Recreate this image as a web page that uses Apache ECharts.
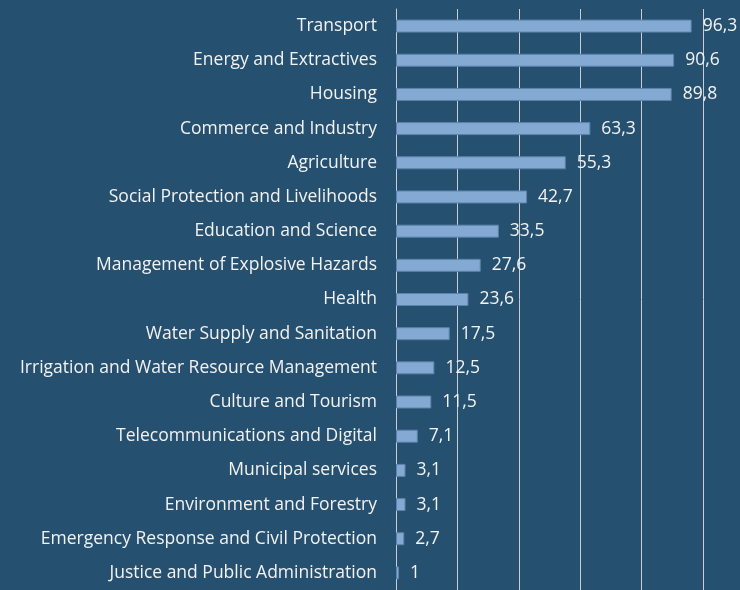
<!DOCTYPE html>
<html>
<head>
<meta charset="utf-8">
<script src="https://cdn.jsdelivr.net/npm/echarts@6/dist/echarts.min.js"></script>
<style>
  html, body { margin: 0; padding: 0; background: #26506f; }
  #chart { width: 740px; height: 590px; }
</style>
</head>
<body>
<div id="chart"></div>
<script>
const categories = [
  'Transport',
  'Energy and Extractives',
  'Housing',
  'Commerce and Industry',
  'Agriculture',
  'Social Protection and Livelihoods',
  'Education and Science',
  'Management of Explosive Hazards',
  'Health',
  'Water Supply and Sanitation',
  'Irrigation and Water Resource Management',
  'Culture and Tourism',
  'Telecommunications and Digital',
  'Municipal services',
  'Environment and Forestry',
  'Emergency Response and Civil Protection',
  'Justice and Public Administration'
]
const values = [96.3, 90.6, 89.8, 63.3, 55.3, 42.7, 33.5, 27.6, 23.6, 17.5, 12.5, 11.5, 7.1, 3.1, 3.1, 2.7, 1]

const chart = echarts.init(document.getElementById('chart'))
chart.setOption({
  backgroundColor: '#26506f',
  animation: false,
  grid: { left: 396, right: 37, top: 9, height: 586 },
  xAxis: {
    type: 'value',
    min: 0,
    max: 100,
    interval: 20,
    axisLabel: { show: false },
    axisLine: { show: false },
    axisTick: { show: false },
    splitLine: { lineStyle: { color: '#c9ced6', width: 1 } }
  },
  yAxis: {
    type: 'category',
    inverse: true,
    data: categories,
    axisTick: { show: false },
    axisLine: { lineStyle: { color: '#c9ced6', width: 1 } },
    axisLabel: {
      color: '#f2f2f2',
      fontFamily: 'Open Sans',
      fontSize: 17.5,
      margin: 19
    }
  },
  series: [
    {
      type: 'bar',
      data: values,
      barWidth: 13,
      itemStyle: { color: '#84a9d3', borderColor: '#5b83ab', borderWidth: 1 },
      label: {
        show: true,
        position: 'right',
        distance: 11,
        color: '#f2f2f2',
        fontFamily: 'Open Sans',
        fontSize: 17.5,
        formatter: p => String(p.value).replace('.', ',')
      }
    }
  ]
})
</script>
</body>
</html>
